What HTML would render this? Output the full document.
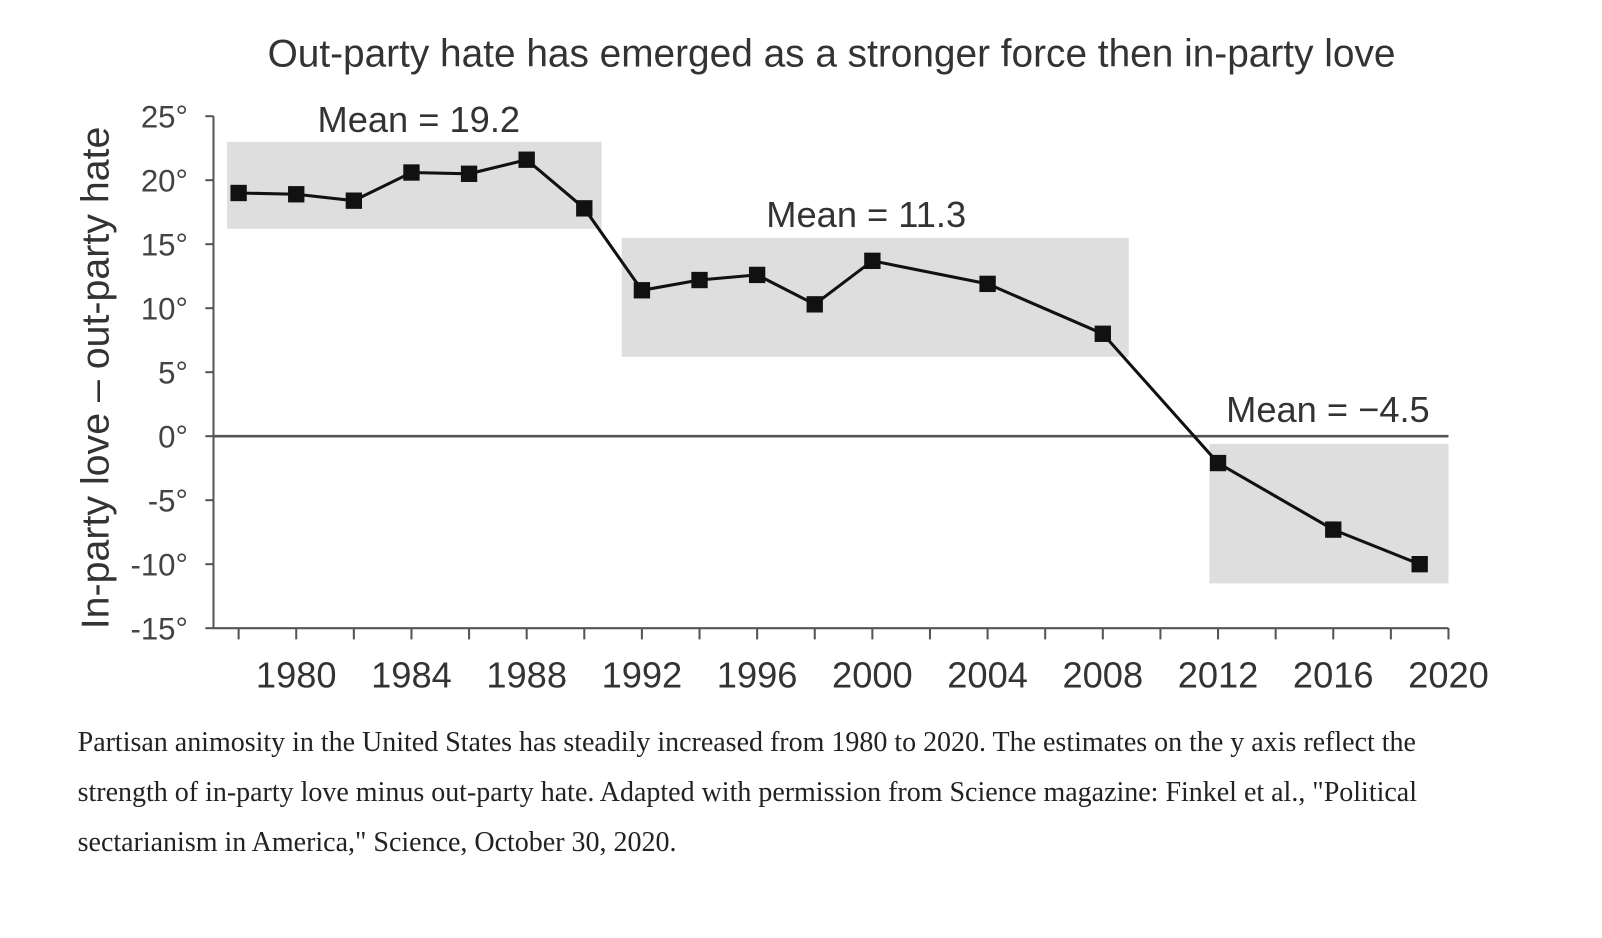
<!DOCTYPE html>
<html><head><meta charset="utf-8"><style>
body{margin:0;background:#fff;width:1602px;height:938px;overflow:hidden}
#wrap{position:absolute;left:0;top:0;width:1568px;height:918px;transform:scale(1.0215);transform-origin:0 0}
svg{position:absolute;left:0;top:0}
#cap{position:absolute;left:76px;top:702px;width:1345px;font-family:"Liberation Serif",serif;font-size:27.4px;line-height:49px;color:#222}
</style></head><body>
<div id="wrap">
<svg width="1568" height="700">
<text x="814" y="65" text-anchor="middle" font-family="Liberation Sans,sans-serif" font-size="38" fill="#333">Out-party hate has emerged as a stronger force then in-party love</text>
<text transform="translate(106,370) rotate(-90)" text-anchor="middle" font-family="Liberation Sans,sans-serif" font-size="38.5" fill="#333">In-party love – out-party hate</text>
<g id="g"></g>
</svg>
<div id="cap">Partisan animosity in the United States has steadily increased from 1980 to 2020. The estimates on the y axis reflect the strength of in-party love minus out-party hate. Adapted with permission from Science magazine: Finkel et al., "Political sectarianism in America," Science, October 30, 2020.</div>
</div>
<script>
const years=[1978,1980,1982,1984,1986,1988,1990,1992,1994,1996,1998,2000,2004,2008,2012,2016,2019];
const values=[19.0,18.9,18.4,20.6,20.5,21.6,17.8,11.4,12.2,12.6,10.3,13.7,11.9,8.0,-2.1,-7.3,-10.0];
const yTicks=[25,20,15,10,5,0,-5,-10,-15];
const xLabels=[1980,1984,1988,1992,1996,2000,2004,2008,2012,2016,2020];
const boxYears=[[1977.6,1990.6],[1991.3,2008.9],[2011.7,2020]];
const boxVals=[[23,16.2],[15.5,6.2],[-0.6,-11.5]];
const means=["Mean = 19.2","Mean = 11.3","Mean = −4.5"];
const X=v=>290+(v-1980)*28.2;
const Y=v=>427-v*12.53;
const NS="http://www.w3.org/2000/svg",g=document.getElementById('g');
function mk(t,a){const e=document.createElementNS(NS,t);for(const k in a)e.setAttribute(k,a[k]);g.appendChild(e);return e;}
boxYears.forEach((b,i)=>{
 const r=mk('rect',{x:X(b[0]),y:Y(boxVals[i][0]),width:X(b[1])-X(b[0]),height:Y(boxVals[i][1])-Y(boxVals[i][0]),fill:'#dedede'});
 
 
});
const mx=[410,848,1300],my=[129,222,413];
means.forEach((m,i)=>{const t=mk('text',{x:mx[i],y:my[i],'text-anchor':'middle','font-family':'Liberation Sans,sans-serif','font-size':35.5,fill:'#333'});t.textContent=m;
 
 });
mk('line',{x1:209,y1:Y(25),x2:209,y2:Y(-15),stroke:'#555','stroke-width':2});
mk('line',{x1:209,y1:Y(-15),x2:X(2020),y2:Y(-15),stroke:'#555','stroke-width':2});
const z=mk('line',{x1:209,y1:Y(0),x2:X(2020),y2:Y(0),stroke:'#555','stroke-width':2.5});


yTicks.forEach(v=>{mk('line',{x1:201,y1:Y(v),x2:209,y2:Y(v),stroke:'#555','stroke-width':2});
 const t=mk('text',{x:184,y:Y(v)+11,'text-anchor':'end','font-family':'Liberation Sans,sans-serif','font-size':30.5,fill:'#444'});t.textContent=v+'°';
 
 });
for(let yr=1978;yr<=2020;yr+=2)mk('line',{x1:X(yr),y1:Y(-15),x2:X(yr),y2:Y(-15)+11,stroke:'#555','stroke-width':2});
xLabels.forEach(v=>{const t=mk('text',{x:X(v),y:673,'text-anchor':'middle','font-family':'Liberation Sans,sans-serif','font-size':35.5,fill:'#333'});t.textContent=v;
 
 });
const p=mk('polyline',{points:years.map((y,i)=>X(y)+','+Y(values[i])).join(' '),fill:'none',stroke:'#111','stroke-width':3});


years.forEach((y,i)=>{const r=mk('rect',{x:X(y)-8,y:Y(values[i])-8,width:16,height:16,fill:'#111'});
 
 });
</script>
</body></html>
